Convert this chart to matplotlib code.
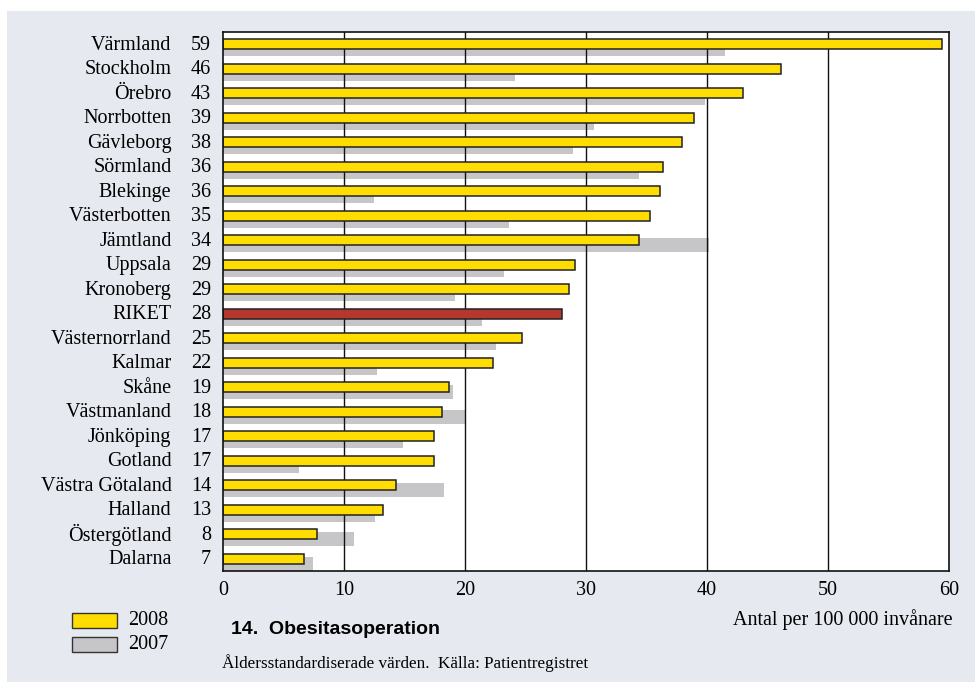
import matplotlib
matplotlib.use("Agg")
import matplotlib.pyplot as plt
import matplotlib.transforms as mtransforms
from matplotlib.patches import Rectangle

# Obesity operations per 100 000 inhabitants, by county
regions = ["Värmland", "Stockholm", "Örebro", "Norrbotten", "Gävleborg", "Sörmland",
           "Blekinge", "Västerbotten", "Jämtland", "Uppsala", "Kronoberg", "RIKET",
           "Västernorrland", "Kalmar", "Skåne", "Västmanland", "Jönköping", "Gotland",
           "Västra Götaland", "Halland", "Östergötland", "Dalarna"]
values_2008 = [59.4, 46.1, 43.0, 38.9, 37.9, 36.4, 36.1, 35.3, 34.4, 29.1, 28.6, 28.0,
               24.7, 22.3, 18.7, 18.1, 17.4, 17.4, 14.3, 13.2, 7.8, 6.7]
values_2007 = [41.5, 24.1, 39.8, 30.7, 28.9, 34.4, 12.5, 23.6, 40.2, 23.2, 19.2, 21.4,
               22.6, 12.7, 19.0, 20.1, 14.9, 6.3, 18.3, 12.6, 10.8, 7.4]
xticks = [0, 10, 20, 30, 40, 50, 60]
highlight = "RIKET"

SERIF = "Liberation Serif"
SANS = "Liberation Sans"
BG = "#e6e9f0"
YELLOW = "#ffdd00"
GREY = "#c6c6c8"
RED = "#b5372d"
EDGE = "#222222"
FS = 14.5

W, H = 975, 682
fig = plt.figure(figsize=(W / 100, H / 100), dpi=100)
fig.patch.set_facecolor("white")
fig.patches.append(Rectangle((7 / W, 0), 1 - 7 / W, 1 - 11 / H,
                             transform=fig.transFigure, facecolor=BG,
                             edgecolor="none", zorder=-10))

left, right, top, bottom = 223, 949, 32, 571
ax = fig.add_axes([left / W, 1 - bottom / H, (right - left) / W, (bottom - top) / H])
ax.set_facecolor("white")

rows = list(range(len(regions)))
ax.barh([r + 0.2 for r in rows], values_2007, height=0.56, color=GREY,
        edgecolor="none", zorder=1)
colors = [RED if n == highlight else YELLOW for n in regions]
ax.barh(rows, values_2008, height=0.41, color=colors, edgecolor=EDGE,
        linewidth=1.1, zorder=3)

ax.set_xlim(xticks[0], xticks[-1])
ax.set_ylim(len(regions) - 0.5, -0.5)
ax.set_xticks(xticks)
ax.set_xticklabels([str(t) for t in xticks], fontfamily=SERIF, fontsize=FS)
ax.tick_params(axis="x", length=0, pad=7)
ax.set_yticks([])
for t in xticks[1:-1]:
    ax.axvline(t, color="#111111", linewidth=1.0, zorder=2)
for s in ax.spines.values():
    s.set_linewidth(1.2)
    s.set_color("#111111")
    s.set_zorder(5)

# Region names and rounded 2008 values to the left of the axes
trans = mtransforms.blended_transform_factory(fig.transFigure, ax.transData)
for r, name, v in zip(rows, regions, values_2008):
    ax.text(171.5 / W, r + 0.04, name, transform=trans, ha="right", va="center",
            fontfamily=SERIF, fontsize=FS, clip_on=False)
    ax.text(211 / W, r + 0.04, f"{v:.0f}", transform=trans, ha="right", va="center",
            fontfamily=SERIF, fontsize=FS, clip_on=False)

fig.text(953 / W, 1 - 620 / H, "Antal per 100 000 invånare", ha="right", va="center",
         fontfamily=SERIF, fontsize=FS)
fig.text(231 / W, 1 - 629 / H, "14.  Obesitasoperation", ha="left", va="center",
         fontfamily=SANS, fontweight="bold", fontsize=14)
fig.text(222 / W, 1 - 663 / H, "Åldersstandardiserade värden.  Källa: Patientregistret",
         ha="left", va="center", fontfamily=SERIF, fontsize=12.3)

# Legend
for y0, col, lab in [(613, YELLOW, "2008"), (637, GREY, "2007")]:
    fig.patches.append(Rectangle((72 / W, 1 - (y0 + 15) / H), 45 / W, 15 / H,
                                 transform=fig.transFigure, facecolor=col,
                                 edgecolor="#333333", linewidth=1.0))
    fig.text(128 / W, 1 - (y0 + 7.5) / H, lab, ha="left", va="center",
             fontfamily=SERIF, fontsize=FS)

fig.savefig("out.png", dpi=100, facecolor=fig.get_facecolor())
